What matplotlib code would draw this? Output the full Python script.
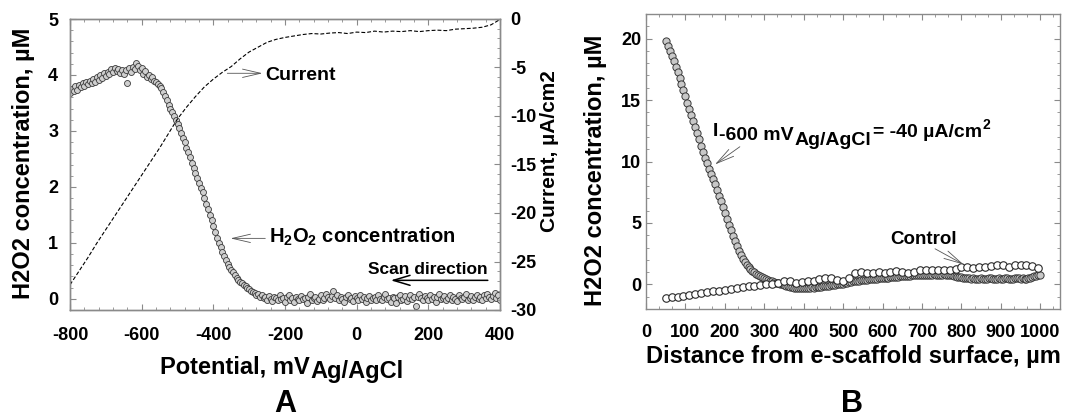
import numpy as np
import matplotlib.pyplot as plt
from matplotlib.ticker import MultipleLocator, AutoMinorLocator

plt.rcParams['font.family'] = ['Liberation Sans', 'DejaVu Sans']
plt.rcParams['font.weight'] = 'bold'
plt.rcParams['axes.labelweight'] = 'bold'
plt.rcParams['mathtext.fontset'] = 'custom'
plt.rcParams['mathtext.rm'] = 'Liberation Sans:bold'
plt.rcParams['mathtext.it'] = 'Liberation Sans:bold'
plt.rcParams['mathtext.bf'] = 'Liberation Sans:bold'
plt.rcParams['mathtext.sf'] = 'Liberation Sans:bold'
plt.rcParams['axes.unicode_minus'] = False

# ---- panel A: current (right axis) vs potential, step 25 mV
potential_current = np.arange(-800, 401, 25)
current = [-27.4, -26.0, -24.6, -23.1, -21.7, -20.3, -18.9, -17.5, -16.1, -14.7,
           -13.3, -11.8, -10.3, -9.1, -8.0, -7.0, -6.2, -5.5, -4.9, -4.1,
           -3.4, -2.9, -2.4, -2.1, -1.9, -1.75, -1.6, -1.5, -1.55, -1.45,
           -1.4, -1.5, -1.35, -1.4, -1.25, -1.35, -1.25, -1.3, -1.2, -1.3,
           -1.2, -1.15, -1.2, -1.05, -1.0, -0.95, -0.85, -0.6, -0.05]

# ---- panel A: H2O2 concentration vs potential, step 5 mV
potential_h2o2 = np.arange(-800, 401, 5)
h2o2_scan = [
    3.68, 3.75, 3.72, 3.80, 3.74, 3.82, 3.78, 3.85, 3.80, 3.88, 3.83, 3.90, 3.86, 3.93, 3.88, 3.97, 3.91, 4.00, 3.94, 4.03, 3.98,
    4.06, 4.02, 4.10, 4.05, 4.12, 4.07, 4.11, 4.04, 4.09, 4.02, 4.08, 3.86, 4.12, 4.06, 4.15, 4.10, 4.21, 4.16, 4.08, 4.12,
    4.02, 4.07, 3.97, 4.00, 3.93, 3.96, 3.90, 3.88, 3.84, 3.80, 3.76, 3.70, 3.62, 3.55, 3.47, 3.40, 3.33, 3.27, 3.20, 3.12,
    3.05, 2.97, 2.88, 2.80, 2.70, 2.63, 2.53, 2.43, 2.33, 2.25, 2.15, 2.07, 1.98, 1.90, 1.80, 1.70, 1.60, 1.50, 1.40, 1.30,
    1.20, 1.09, 1.00, 0.92, 0.84, 0.76, 0.69, 0.62, 0.57, 0.52, 0.48, 0.43, 0.38, 0.33, 0.30,
    0.28, 0.25, 0.23, 0.20, 0.18, 0.14, 0.13, 0.10, 0.07, 0.08, 0.04, 0.06, 0.02,
    0.03, -0.02, 0.05, 0.00, -0.04, 0.04, 0.01, -0.03, 0.06, -0.01, 0.02, -0.05, 0.03, 0.07, -0.02, 0.01, -0.06, 0.04, 0.00, -0.03,
    0.05, -0.01, 0.02, -0.07, 0.03, 0.08, -0.02, 0.01, 0.04, -0.04, 0.00, 0.06, -0.03, 0.02, 0.09, 0.03, -0.01, 0.05, 0.14, 0.02,
    0.07, -0.02, 0.04, 0.00, -0.05, 0.03, 0.06, -0.01, 0.02, -0.04, 0.05, 0.01, -0.03, 0.07, 0.00, 0.03, -0.06, 0.02, 0.05, -0.02,
    0.01, 0.04, -0.03, 0.06, 0.00, -0.02, 0.03, 0.08, -0.01, 0.02, -0.05, 0.04, 0.01, -0.08, 0.03, 0.06, -0.02, 0.00, 0.05, -0.04,
    0.02, 0.07, -0.01, 0.03, -0.12, 0.04, 0.09, 0.01, -0.03, 0.05, 0.02, -0.02, 0.06, 0.00, 0.03, -0.05, 0.04, 0.08, -0.01, 0.02,
    0.05, -0.03, 0.01, 0.06, -0.02, 0.03, 0.00, -0.04, 0.07, 0.02, -0.01, 0.04, 0.08, -0.03, 0.01, 0.05, -0.02, 0.03, 0.06, 0.00,
    0.04, -0.02, 0.07, 0.01, 0.09, 0.03, -0.01, 0.05, 0.11, 0.02, 0.06, -0.03]

# ---- panel B: H2O2 vs distance at -40 uA/cm2, step 5 um
distance_on = np.arange(50, 1001, 5)
h2o2_on = [
    19.8, 19.4, 19.0, 18.6, 18.2, 17.7, 17.3, 16.8, 16.3, 15.8,
    15.3, 14.8, 14.3, 13.8, 13.3, 12.8, 12.3, 11.8, 11.3, 10.8,
    10.3, 9.9, 9.4, 9.0, 8.6, 8.2, 7.7, 7.2, 6.8, 6.3,
    5.8, 5.3, 4.85, 4.4, 3.95, 3.5, 3.1, 2.75, 2.4, 2.1,
    1.85, 1.62, 1.42, 1.25, 1.1, 0.97, 0.86, 0.76, 0.67, 0.6,
    0.52, 0.44, 0.37, 0.31, 0.25, 0.19, 0.14, 0.1, 0.05, 0.0,
    -0.05, -0.1, -0.14, -0.18, -0.22, -0.26, -0.28, -0.3, -0.3, -0.31,
    -0.3, -0.29, -0.3, -0.27, -0.25, -0.26, -0.22, -0.2, -0.18, -0.17,
    -0.15, -0.12, -0.1, -0.1, -0.07, -0.05, -0.03, 0.0, 0.0, 0.04,
    0.06, 0.1, 0.14, 0.17, 0.2, 0.24, 0.26, 0.3, 0.31, 0.34,
    0.36, 0.38, 0.4, 0.41, 0.43, 0.45, 0.46, 0.48, 0.5, 0.5,
    0.52, 0.53, 0.55, 0.56, 0.58, 0.58, 0.6, 0.62, 0.63, 0.65,
    0.66, 0.68, 0.69, 0.7, 0.72, 0.73, 0.74, 0.76, 0.77, 0.78,
    0.78, 0.79, 0.8, 0.8, 0.79, 0.8, 0.81, 0.8, 0.79, 0.8,
    0.8, 0.81, 0.79, 0.8, 0.78, 0.76, 0.72, 0.68, 0.63, 0.6,
    0.57, 0.55, 0.52, 0.5, 0.49, 0.48, 0.5, 0.47, 0.46, 0.48,
    0.5, 0.47, 0.48, 0.46, 0.49, 0.5, 0.47, 0.45, 0.48, 0.5,
    0.48, 0.46, 0.49, 0.5, 0.47, 0.45, 0.48, 0.5, 0.52, 0.49,
    0.47, 0.5, 0.46, 0.44, 0.5, 0.55, 0.6, 0.66, 0.72, 0.75,
    0.8]

# ---- panel B: control, step 15 um
distance_ctrl = np.arange(50, 1000, 15)
h2o2_ctrl = [
    -1.1, -1.05, -1.0, -0.95, -0.85, -0.8, -0.72, -0.6, -0.55, -0.5,
    -0.42, -0.35, -0.3, -0.22, -0.15, -0.1, -0.05, 0.0, 0.05, 0.1,
    0.3, 0.25, 0.1, 0.2, 0.3, 0.25, 0.45, 0.55, 0.5, 0.35,
    0.3, 0.55, 0.95, 1.05, 0.95, 0.9, 1.0, 0.95, 1.05, 1.1,
    1.05, 0.95, 1.0, 1.15, 1.2, 1.2, 1.15, 1.2, 1.15, 1.25,
    1.4, 1.45, 1.35, 1.4, 1.45, 1.5, 1.55, 1.6, 1.45, 1.55,
    1.6, 1.55, 1.5, 1.35]

frame = '#8a8a8a'


def style_axis(ax):
    for s in ax.spines.values():
        s.set_color(frame)
        s.set_linewidth(1.0)
    ax.tick_params(which='both', direction='in', color=frame, labelsize=13)
    ax.tick_params(which='major', length=4)
    ax.tick_params(which='minor', length=2.5)


def thin_arrow(ax, tip, tail, color='#555555', lw=0.6, hl=0.65, hw=0.15):
    ax.annotate('', xy=tip, xytext=tail,
                arrowprops=dict(arrowstyle='->,head_length=%g,head_width=%g' % (hl, hw),
                                color=color, lw=lw, shrinkA=0, shrinkB=0,
                                mutation_scale=20))


fig = plt.figure(figsize=(10.69, 4.2), dpi=100)

# ================= panel A
axA = fig.add_axes([70 / 1069, 1 - 310 / 420, 430 / 1069, 291 / 420])
axA.plot(potential_h2o2, h2o2_scan, 'o', ms=4.3, mfc='#cfcfcf', mec='#3a3a3a', mew=0.6)
axA.set_xlim(-800, 400)
axA.set_ylim(-0.2, 5)
axA.xaxis.set_major_locator(MultipleLocator(200))
axA.xaxis.set_minor_locator(AutoMinorLocator(5))
axA.yaxis.set_major_locator(MultipleLocator(1))
axA.yaxis.set_minor_locator(AutoMinorLocator(5))
style_axis(axA)
axA.tick_params(which='both', top=True, right=False)
axA.tick_params(axis='y', pad=8.5)
axA.tick_params(axis='x', pad=12)

axA2 = axA.twinx()
axA2.plot(potential_current, current, color='black', lw=0.8, ls=(0, (3.5, 1.8)))
axA2.set_ylim(-30, 0)
axA2.yaxis.set_major_locator(MultipleLocator(5))
axA2.yaxis.set_minor_locator(AutoMinorLocator(5))
style_axis(axA2)
axA2.tick_params(axis='y', pad=7.5)

axA.set_ylabel('H2O2 concentration, µM', fontsize=17)
axA.yaxis.set_label_coords(-0.107, 0.505)
axA.yaxis.label.set_va('center')
axA2.set_ylabel('Current, µA/cm2', fontsize=15)
axA2.yaxis.set_label_coords(1.116, 0.546)
axA2.yaxis.label.set_va('center')

axA.set_xlabel('Potential, mV', fontsize=17)
axA.xaxis.set_label_coords(0.2093, -0.2165)
axA.xaxis.label.set_ha('left')
axA.xaxis.label.set_va('baseline')
axA.annotate('Ag/AgCl', xy=(1, 0), xycoords=axA.xaxis.label, xytext=(0.5, -3.6),
             textcoords='offset points', fontsize=17, ha='left', va='bottom')

axA.text(-255, 3.91, 'Current', fontsize=14, ha='left', va='baseline')
thin_arrow(axA, (-263, 4.03), (-361, 4.03))
axA.text(-246, 1.0, r'H$_{\mathregular{2}}$O$_{\mathregular{2}}$ concentration',
         fontsize=14.5, ha='left', va='baseline')
thin_arrow(axA, (-352, 1.08), (-255, 1.08))
axA.text(366, 0.45, 'Scan direction', fontsize=12.5, ha='right', va='baseline')
thin_arrow(axA, (95, 0.33), (366, 0.33), color='black', lw=1.1, hl=0.6, hw=0.18)

# ================= panel B
axB = fig.add_axes([646 / 1069, 1 - 309 / 420, 414 / 1069, 295 / 420])
axB.plot(distance_on, h2o2_on, 'o', ms=5.2, mfc='#c8c8c8', mec='#3a3a3a', mew=0.7)
axB.plot(distance_ctrl, h2o2_ctrl, 'o', ms=5.4, mfc='white', mec='#2a2a2a', mew=0.8)
axB.set_xlim(0, 1050)
axB.set_ylim(-2, 22)
axB.xaxis.set_major_locator(MultipleLocator(100))
axB.xaxis.set_minor_locator(AutoMinorLocator(3))
axB.yaxis.set_major_locator(MultipleLocator(5))
axB.yaxis.set_minor_locator(AutoMinorLocator(5))
style_axis(axB)
axB.tick_params(which='both', top=True, right=True)
axB.tick_params(axis='y', pad=3.5)
axB.tick_params(axis='x', pad=11)

axB.set_ylabel('H2O2 concentration, µM', fontsize=17)
axB.yaxis.set_label_coords(-0.121, 0.47)
axB.yaxis.label.set_va('center')
axB.set_xlabel('Distance from e-scaffold surface, µm', fontsize=17)
axB.xaxis.set_label_coords(0.5, -0.183)
axB.xaxis.label.set_va('baseline')

t0 = axB.text(170, 12.1, 'I', fontsize=14, ha='left', va='baseline')
t1 = axB.annotate('-600 mV', xy=(1, 0), xycoords=t0, xytext=(0.5, -2.9),
                  textcoords='offset points', fontsize=14, va='bottom')
t2 = axB.annotate('Ag/AgCl', xy=(1, 0), xycoords=t1, xytext=(0.5, -3.6),
                  textcoords='offset points', fontsize=14, va='bottom')
t3 = axB.annotate('= -40 µA/cm', xy=(1, 0), xycoords=t2, xytext=(1, 5.8),
                  textcoords='offset points', fontsize=14, va='bottom')
axB.annotate('2', xy=(1, 0), xycoords=t3, xytext=(0.5, 6.5),
             textcoords='offset points', fontsize=10, va='bottom')
thin_arrow(axB, (175, 9.76), (238, 11.2))

axB.text(619, 3.25, 'Control', fontsize=13.5, ha='left', va='baseline')
thin_arrow(axB, (805, 1.63), (733, 2.9))

fig.text(285 / 1069, 0.002, 'A', fontsize=22, ha='center', va='bottom')
fig.text(852 / 1069, 0.002, 'B', fontsize=22, ha='center', va='bottom')

fig.savefig('out.png', dpi=100)
